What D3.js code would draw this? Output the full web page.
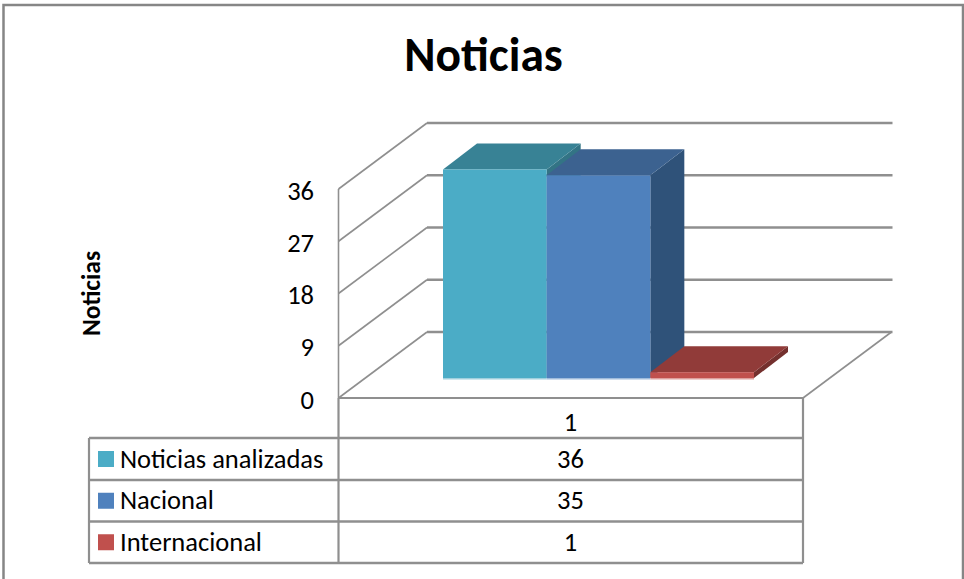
<!DOCTYPE html>
<html><head><meta charset="utf-8">
<script src="https://cdn.jsdelivr.net/npm/d3@7/dist/d3.min.js"></script>
<style>html,body{margin:0;padding:0;background:#fff}svg{display:block}text{font-family:Calibri,Carlito,Lato,"Open Sans",sans-serif;fill:#000}</style>
</head><body><script>
const title="Noticias";
const yTitle="Noticias";
const category="1";
const series=["Noticias analizadas","Nacional","Internacional"];
const values=[36,35,1];
const yTicks=[0,9,18,27,36];
const colors=["#4bacc6","#4f81bd","#c0504d"];
const tops=["#388295","#3c6290","#913b39"];
const sides=["#337485","#2f5279","#74302e"];
const sheens=["#9fd0de","#a0bcdc","#dd9f9d"];

const W=964,H=579;
const svg=d3.select("body").append("svg").attr("width",W).attr("height",H);
svg.append("rect").attr("x",3.5).attr("y",5).attr("width",959.5).attr("height",H+10).attr("fill","#fff").attr("stroke","#868686").attr("stroke-width",2.5);

const y=d3.scaleLinear().domain([0,36]).range([398,189]);
const xFront=338.5,xRight=803,depthX=88.5,depthY=-66;
const grid="#8f8f8f";
const seg=(x1,y1,x2,y2,w=1.5)=>svg.append("line").attr("x1",x1).attr("y1",y1).attr("x2",x2).attr("y2",y2).attr("stroke",grid).attr("stroke-width",w);

yTicks.forEach(t=>{
  seg(xFront,y(t),xFront+depthX,y(t)+depthY,1.6);
  seg(xFront+depthX,y(t)+depthY,xRight+depthX+1,y(t)+depthY,2.4);
});
seg(xFront,y(36),xFront,398,1.6);
seg(xRight,398,xRight+depthX,398+depthY,1.6);

yTicks.forEach(t=>svg.append("text").attr("x",314).attr("y",y(t)+2).attr("dy","0.33em").attr("text-anchor","end").attr("font-size",26.5).text(t));

svg.append("text").attr("x",483.5).attr("y",71).attr("text-anchor","middle").attr("font-size",47.5).attr("font-weight",700).text(title);
svg.append("text").attr("transform","translate(100,293.5) rotate(-90)").attr("text-anchor","middle").attr("font-size",25.5).attr("font-weight",700).text(yTitle);

// bars
const x=d3.scaleBand().domain(series).range([443,754]).padding(0);
const bx=34, by=26; // bar depth
const base=378, yb=d3.scaleLinear().domain([0,36]).range([base,169.5]);
const poly=(pts,f)=>svg.append("polygon").attr("points",pts.map(p=>p.join(",")).join(" ")).attr("fill",f);
series.forEach((s,i)=>{
  const x0=x(s),x1=x0+x.bandwidth(),t=yb(values[i]);
  poly([[x1,t],[x1+bx,t-by],[x1+bx,base-by],[x1,base]],sides[i]);
  poly([[x0,t],[x0+bx,t-by],[x1+bx,t-by],[x1,t]],tops[i]);
  svg.append("rect").attr("x",x0).attr("y",t).attr("width",x.bandwidth()).attr("height",base-t).attr("fill",colors[i]);
  svg.append("rect").attr("x",x0).attr("y",base).attr("width",x.bandwidth()).attr("height",1.5).attr("fill",sheens[i]);
});

// table
const rows=[438,480,521.5,563];
const tLeft=89;
seg(xFront,398,xRight,398,2);
seg(xFront,398,xFront,563,2.2);
seg(xRight,398,xRight,563,2.2);
seg(tLeft,438,tLeft,563,2.2);
rows.forEach(r=>seg(tLeft,r,xRight,r,2.4));
const mid=570.5;
svg.append("text").attr("x",mid).attr("y",422.5).attr("dy","0.33em").attr("text-anchor","middle").attr("font-size",26.5).text(category);
series.forEach((s,i)=>{
  const cy=(rows[i]+rows[i+1])/2;
  svg.append("rect").attr("x",98).attr("y",cy-8).attr("width",16).attr("height",16).attr("fill",colors[i]);
  svg.append("text").attr("x",120).attr("y",cy).attr("dy","0.33em").attr("font-size",26.5).text(s);
  svg.append("text").attr("x",mid).attr("y",cy).attr("dy","0.33em").attr("text-anchor","middle").attr("font-size",26.5).text(values[i]);
});
</script></body></html>
